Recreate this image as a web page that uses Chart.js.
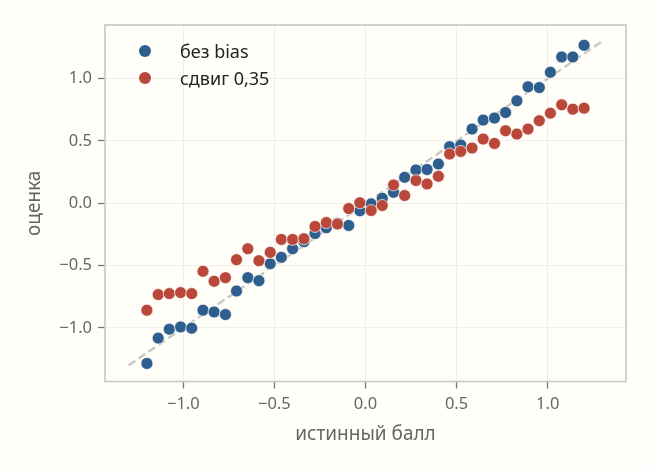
<!DOCTYPE html>
<html>
<head>
<meta charset="utf-8">
<script src="https://cdn.jsdelivr.net/npm/chart.js@4"></script>
<style>
  html, body { margin: 0; padding: 0; background: #fffef9; }
  #wrap { position: relative; width: 651px; height: 469px; }
  #legend { position: absolute; left: 132px; top: 38px; font-family: "Noto Sans", sans-serif; font-size: 18px; color: #222; }
  #legend div { height: 26.6px; line-height: 26.6px; display: flex; align-items: center; }
  #legend span.dot { display: inline-block; width: 12px; height: 12px; border-radius: 50%; margin: 0 29px 0 7px; }
</style>
</head>
<body>
<div id="wrap">
  <canvas id="chart" width="651" height="469"></canvas>
  <div id="legend"></div>
</div>
<script>
const trueScores = [
  -1.200, -1.138, -1.077, -1.015, -0.954, -0.892, -0.831, -0.769, -0.708, -0.646,
  -0.585, -0.523, -0.462, -0.400, -0.338, -0.277, -0.215, -0.154, -0.092, -0.031,
  0.031, 0.092, 0.154, 0.215, 0.277, 0.338, 0.400, 0.462, 0.523, 0.585,
  0.646, 0.708, 0.769, 0.831, 0.892, 0.954, 1.015, 1.077, 1.138, 1.200
];
const unbiased = [
  -1.285, -1.082, -1.010, -0.992, -1.002, -0.858, -0.872, -0.893, -0.704, -0.597,
  -0.621, -0.485, -0.434, -0.365, -0.308, -0.243, -0.197, -0.160, -0.178, -0.060,
  -0.005, 0.040, 0.088, 0.208, 0.267, 0.271, 0.315, 0.454, 0.467, 0.595,
  0.667, 0.683, 0.728, 0.822, 0.934, 0.928, 1.051, 1.174, 1.174, 1.267
];
const shifted = [
  -0.858, -0.733, -0.725, -0.717, -0.725, -0.546, -0.626, -0.597, -0.453, -0.365,
  -0.461, -0.394, -0.290, -0.290, -0.285, -0.186, -0.155, -0.167, -0.043, 0.004,
  -0.059, -0.018, 0.147, 0.062, 0.182, 0.155, 0.216, 0.395, 0.416, 0.443,
  0.515, 0.480, 0.582, 0.555, 0.595, 0.662, 0.723, 0.790, 0.755, 0.763
];
const identityLine = [-1.3, 1.3];
const tickValues = [-1.0, -0.5, 0.0, 0.5, 1.0];
const seriesNames = ["без bias", "сдвиг 0,35"];
const seriesColors = ["#2e5e8e", "#b9483b"];

const fmt = v => v.toFixed(1).replace("-", "\u2212");

// рамка вокруг области графика
const frame = {
  id: "frame",
  afterDraw(chart) {
    const { ctx, chartArea: a } = chart;
    ctx.save();
    ctx.strokeStyle = "#c9c8bf";
    ctx.lineWidth = 1.6;
    ctx.strokeRect(a.left, a.top, a.right - a.left, a.bottom - a.top);
    ctx.restore();
  }
};

const axisBase = {
  type: "linear",
  min: -1.43,
  max: 1.43,
  afterBuildTicks: axis => { axis.ticks = tickValues.map(v => ({ value: v })); },
  border: { display: false },
  grid: { color: "#efeee8", lineWidth: 1, tickColor: "#777", tickLength: 7, tickWidth: 1.3 },
  ticks: {
    color: "#666",
    font: { family: "Noto Sans", size: 16.5 },
    padding: 6,
    callback: v => fmt(v)
  }
};

new Chart(document.getElementById("chart"), {
  type: "scatter",
  data: {
    datasets: [
      {
        type: "line",
        data: identityLine.map(v => ({ x: v, y: v })),
        borderColor: "#c8c7bf",
        borderWidth: 2.3,
        borderDash: [8, 4],
        pointRadius: 0,
        order: 3
      },
      {
        label: seriesNames[0],
        data: trueScores.map((x, i) => ({ x, y: unbiased[i] })),
        backgroundColor: seriesColors[0],
        borderColor: "#fffef9",
        borderWidth: 0.7,
        pointRadius: 6,
        order: 2
      },
      {
        label: seriesNames[1],
        data: trueScores.map((x, i) => ({ x, y: shifted[i] })),
        backgroundColor: seriesColors[1],
        borderColor: "#fffef9",
        borderWidth: 0.7,
        pointRadius: 6,
        order: 1
      }
    ]
  },
  options: {
    responsive: false,
    animation: false,
    layout: { padding: { top: 25, right: 25, left: 0, bottom: 0 } },
    plugins: { legend: { display: false }, tooltip: { enabled: false } },
    scales: {
      x: Object.assign({}, axisBase, {
        afterFit: s => { s.height = 87.5; },
        title: { display: true, text: "истинный балл", color: "#666", font: { family: "Noto Sans", size: 19 }, padding: { top: 0, bottom: 23.5 } }
      }),
      y: Object.assign({}, axisBase, {
        afterFit: s => { s.width = 105; },
        title: { display: true, text: "оценка", color: "#666", font: { family: "Noto Sans", size: 19 }, padding: { top: 23.5, bottom: 0 } }
      })
    }
  },
  plugins: [frame]
});

const legend = document.getElementById("legend");
seriesNames.forEach((name, i) => {
  const row = document.createElement("div");
  row.innerHTML = `<span class="dot" style="background:${seriesColors[i]}"></span>${name}`;
  legend.appendChild(row);
});
</script>
</body>
</html>
